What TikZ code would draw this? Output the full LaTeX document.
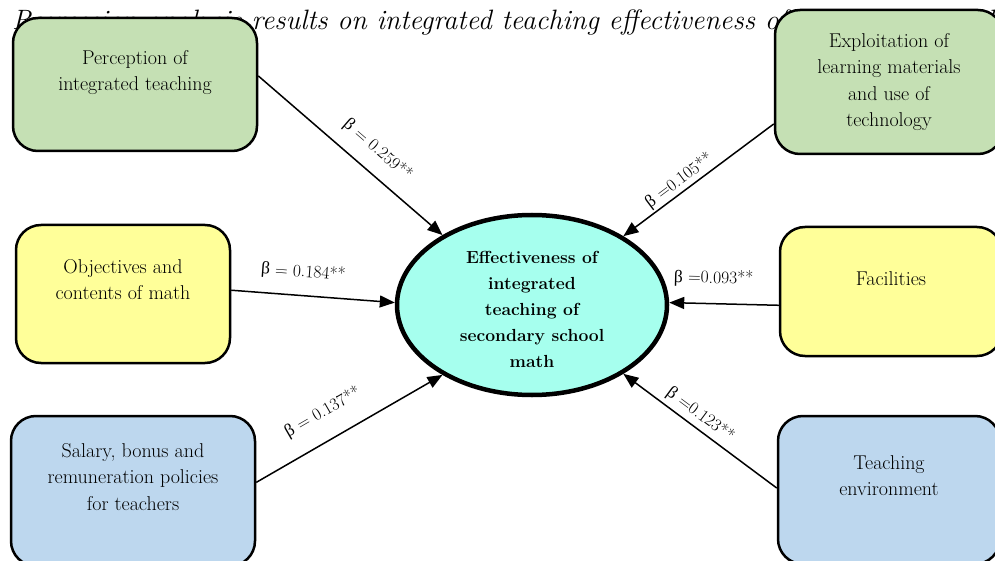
\documentclass[tikz,border=0pt]{standalone}
\usepackage{fontspec}
\newfontfamily\grkfont{Liberation Serif}
\usetikzlibrary{arrows.meta, shapes.geometric}
\definecolor{cGreen} {HTML}{C5E0B4}
\definecolor{cYellow}{HTML}{FFFF99}
\definecolor{cBlue}  {HTML}{BDD7EE}
\definecolor{cCyan}  {HTML}{A6FFEE}
\newcommand{\bet}{{\grkfont β}}

\begin{document}
\begin{tikzpicture}[x=1pt, y=-1pt,
        factor/.style = {draw, line width=2.5pt, rounded corners=25pt, align=center, font=\fontsize{20}{26.5}\selectfont},
        goal/.style = {draw, ellipse, line width=4.5pt, fill=cCyan, inner sep=0pt, minimum width=270pt, minimum height=180pt, align=center, font=\fontsize{17.5}{26}\selectfont\bfseries},
        effect/.style = {line width=1.5pt, -{Triangle[length=15pt, width=12pt]}},
        beta/.style = {sloped, inner sep=0pt, font=\fontsize{17.5}{20}\selectfont} ]
      \useasboundingbox (0,0) rectangle (995,561);
      \node[anchor=base west, inner sep=0pt, font=\fontsize{28}{32}\selectfont\itshape] (title) at (12,30) {Regression analysis results on integrated teaching effectiveness of secondary school};

      \node[goal] (goal) at (532,305) {\rule{0pt}{21pt}Effectiveness of\\integrated\\teaching of\\secondary school\\math};

      \node[factor, fill=cGreen, minimum width=244pt, minimum height=133pt] (perc) at (135,84.5) {Perception of\\integrated teaching\\[-6pt] \strut};
      \node[factor, fill=cYellow, minimum width=214pt, minimum height=138pt] (obj) at (123,294) {Objectives and\\contents of math\\[-5pt] \strut};
      \node[factor, fill=cBlue, minimum width=244pt, minimum height=150pt] (sal) at (133,491) {Salary, bonus and\\remuneration policies\\for teachers\\[-6pt] \strut};
      \node[factor, fill=cGreen, minimum width=228pt, minimum height=144pt] (expl) at (889,82) {Exploitation of\\learning materials\\and use of\\technology};
      \node[factor, fill=cYellow, minimum width=222pt, minimum height=129pt] (fac) at (891,291.5) {Facilities\\[-8pt] \strut};
      \node[factor, fill=cBlue, minimum width=222pt, minimum height=148pt] (env) at (889,490) {Teaching\\environment\\[-6pt] \strut};

      \draw[effect] (perc.4) -- node[beta, pos=0.57, above=13pt] {\bet{} = 0.259**} (goal.142);
      \draw[effect] (obj.2) -- node[beta, pos=0.43, above=14pt] {\bet{} = 0.184**} (goal.179);
      \draw[effect] (sal.4) -- node[beta, pos=0.43, above=18pt] {\bet{} = 0.137**} (goal.218);
      \draw[effect] (expl.200) -- node[beta, pos=0.585, above=2pt] {\bet{} =0.105**} (goal.37);
      \draw[effect] (fac.187) -- node[beta, pos=0.6, above=16pt] {\bet{} =0.093**} (goal.1);
      \draw[effect] (env.179) -- node[beta, pos=0.55, above=4pt] {\bet{} =0.123**} (goal.-37);
    \end{tikzpicture}
\end{document}
